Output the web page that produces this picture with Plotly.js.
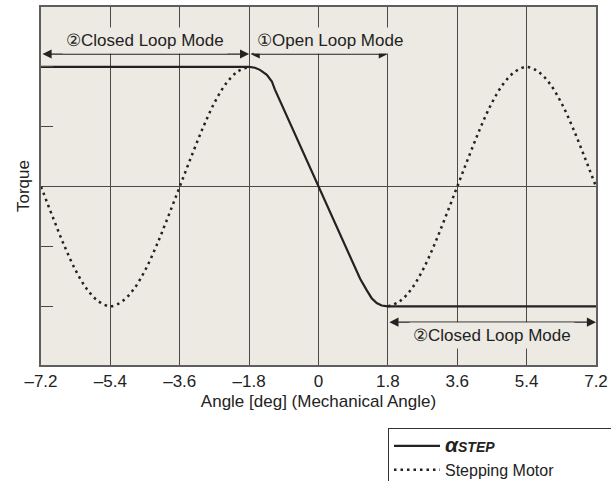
<!DOCTYPE html>
<html>
<head>
<meta charset="utf-8">
<script src="https://cdn.plot.ly/plotly-3.0.1.min.js"></script>
<style>html,body{margin:0;padding:0;background:#fff;}#chart{width:611px;height:481px;}</style>
</head>
<body>
<div id="chart"></div>
<script>
// ---- data ----
const angleTicks = [-7.2, -5.4, -3.6, -1.8, 0, 1.8, 3.6, 5.4, 7.2];
const angleTickText = ['–7.2', '–5.4', '–3.6', '–1.8', '0', '1.8', '3.6', '5.4', '7.2'];
const torqueTicks = [-1, -0.5, 0.5, 1];

// αSTEP torque curve
const alphaX = [-7.2, -1.8, -1.65, -1.52, -1.34, -1.21, -1.13, 0, 1.08, 1.25, 1.38, 1.51, 1.64, 1.8, 7.2];
const alphaY = [1, 1, 0.993, 0.975, 0.933, 0.878, 0.81, 0, -0.77, -0.865, -0.932, -0.973, -0.993, -1, -1];

// Stepping motor torque curve (two visible segments)
const stepX = [-7.2, -6.9, -6.6, -6.3, -6.0, -5.7, -5.4, -5.1, -4.8, -4.5, -4.2, -3.9, -3.6, -3.3, -3.0, -2.7, -2.4, -2.1, -1.8,
               null,
               1.8, 2.1, 2.4, 2.7, 3.0, 3.3, 3.6, 3.9, 4.2, 4.5, 4.8, 5.1, 5.4, 5.7, 6.0, 6.3, 6.6, 6.9, 7.2];
const stepY = [0, -0.25, -0.49, -0.70, -0.86, -0.96, -1, -0.96, -0.86, -0.70, -0.49, -0.25, 0, 0.25, 0.49, 0.70, 0.86, 0.96, 1,
               null,
               -1, -0.96, -0.86, -0.70, -0.49, -0.25, 0, 0.25, 0.49, 0.70, 0.86, 0.96, 1, 0.96, 0.86, 0.70, 0.49, 0.25, 0];

// Operating mode regions
const modeLabels = ['②Closed Loop Mode', '①Open Loop Mode', '②Closed Loop Mode'];
const modeStart = [-7.2, -1.8, 1.8];
const modeEnd = [-1.8, 1.8, 7.2];
const modeTextX = [-4.5, 0.29, 4.5];
const modeTextY = [1.224, 1.224, -1.241];
const modeArrowY = [1.107, 1.107, -1.132];

const seriesNames = [
  "<b><i><span style='font-size:21px'>α</span><span style='font-size:14px'>STEP</span></i></b>",
  'Stepping Motor'
];

// ---- drawing ----
const FONT = 'Liberation Sans, Arial, sans-serif';
const BG = '#EDEAE3';
const INK = '#222222';
const PAD = '\u00A0'.repeat(12);

const traces = [
  {
    x: alphaX, y: alphaY, type: 'scatter', mode: 'lines', name: seriesNames[0],
    line: {color: INK, width: 2.2}
  },
  {
    x: stepX, y: stepY, type: 'scatter', mode: 'lines', name: seriesNames[1] + PAD,
    line: {color: INK, width: 2.5, dash: '2.5px,4px', shape: 'spline', smoothing: 1},
    connectgaps: false
  }
];

const annotations = [];
for (let i = 0; i < modeLabels.length; i++) {
  annotations.push({
    x: modeEnd[i], y: modeArrowY[i], ax: modeStart[i], ay: modeArrowY[i],
    xref: 'x', yref: 'y', axref: 'x', ayref: 'y',
    text: '', showarrow: true, arrowside: 'end+start',
    arrowhead: 2, arrowsize: 1.4, arrowwidth: 1.3, arrowcolor: INK
  });
  annotations.push({
    x: modeTextX[i], y: modeTextY[i], xref: 'x', yref: 'y',
    text: modeLabels[i], showarrow: false,
    font: {family: FONT, size: 17, color: INK},
    bgcolor: BG, borderpad: 3
  });
}

const layout = {
  width: 611, height: 481,
  margin: {l: 41, r: 15, t: 7, b: 116, autoexpand: false},
  paper_bgcolor: '#ffffff',
  plot_bgcolor: BG,
  font: {family: FONT, size: 17, color: INK},
  showlegend: true,
  legend: {
    x: 0.6252, y: -0.176, xanchor: 'left', yanchor: 'top',
    bgcolor: '#ffffff', bordercolor: '#333333', borderwidth: 1,
    font: {family: FONT, size: 16, color: INK},
    itemwidth: 46, tracegroupgap: 0
  },
  xaxis: {
    range: [-7.2, 7.2], tickmode: 'array', tickvals: angleTicks, ticktext: angleTickText,
    showgrid: true, gridcolor: '#4a4a4a', gridwidth: 1.2, zeroline: false,
    ticks: '', showline: true, linecolor: '#5e5e5e', linewidth: 2, mirror: true,
    tickfont: {family: FONT, size: 17, color: INK},
    title: {text: 'Angle [deg] (Mechanical Angle)', font: {family: FONT, size: 17, color: INK}, standoff: 5},
    fixedrange: true
  },
  yaxis: {
    range: [-1.49, 1.5], tickmode: 'array', tickvals: torqueTicks,
    showticklabels: false, ticks: 'inside', ticklen: 12, tickwidth: 1.2, tickcolor: '#4a4a4a',
    showgrid: false, zeroline: true, zerolinecolor: '#4a4a4a', zerolinewidth: 1.2,
    showline: true, linecolor: '#5e5e5e', linewidth: 2, mirror: true,
    title: {text: 'Torque', font: {family: FONT, size: 17, color: INK}, standoff: 5},
    fixedrange: true
  },
  annotations: annotations
};

Plotly.newPlot('chart', traces, layout, {displayModeBar: false, staticPlot: true});
</script>
</body>
</html>
